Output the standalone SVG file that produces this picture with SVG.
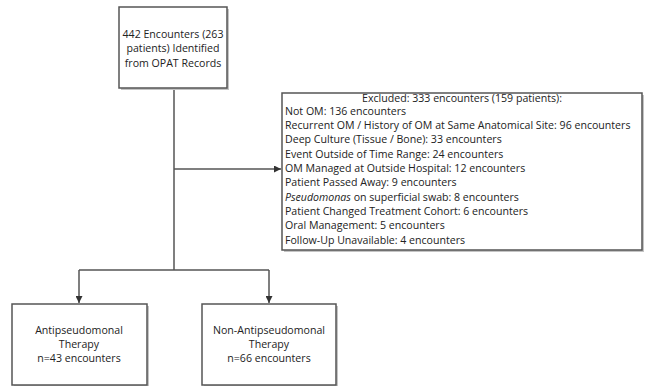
<svg xmlns="http://www.w3.org/2000/svg" width="647" height="386" viewBox="0 0 647 386">
<style>
.box{fill:#fff;stroke:#555;stroke-width:1.5}
.sh{fill:#c4c4c4}
.t{font-family:"Open Sans","Liberation Sans",sans-serif;font-size:10.6px;fill:#222}
.c{text-anchor:middle}
.ln{fill:none;stroke:#555;stroke-width:1.5}
</style>
<defs>
<marker id="ah" viewBox="0 0 10 10" refX="10" refY="5" markerWidth="7" markerHeight="7" markerUnits="userSpaceOnUse" orient="auto">
<path d="M0,0 L10,5 L0,10 z" fill="#333"/>
</marker>
</defs>
<rect width="647" height="386" fill="#fff"/>
<g id="connectors">
<path class="ln" d="M174,88 V270"/>
<path class="ln" d="M174,169 H281" marker-end="url(#ah)"/>
<path class="ln" d="M79,270 H269"/>
<path class="ln" d="M79,270 V303" marker-end="url(#ah)"/>
<path class="ln" d="M269,270 V303" marker-end="url(#ah)"/>
</g>
<g id="n_start">
<rect class="sh" x="121" y="9" width="108" height="81"/>
<rect class="box" x="119" y="7" width="108" height="81"/>
<text class="t c" x="173" y="38">442 Encounters (263</text>
<text class="t c" x="173" y="52">patients) Identified</text>
<text class="t c" x="173" y="67">from OPAT Records</text>
</g>
<g id="n_excluded">
<rect class="sh" x="284" y="95" width="360" height="157"/>
<rect class="box" x="282" y="93" width="360" height="157"/>
<text class="t c" x="462" y="102">Excluded: 333 encounters (159 patients):</text>
<text class="t" x="285" y="115">Not OM: 136 encounters</text>
<text class="t" x="285" y="129">Recurrent OM / History of OM at Same Anatomical Site: 96 encounters</text>
<text class="t" x="285" y="143">Deep Culture (Tissue / Bone): 33 encounters</text>
<text class="t" x="285" y="158">Event Outside of Time Range: 24 encounters</text>
<text class="t" x="285" y="172">OM Managed at Outside Hospital: 12 encounters</text>
<text class="t" x="285" y="186">Patient Passed Away: 9 encounters</text>
<text class="t" x="285" y="201"><tspan font-style="italic">Pseudomonas</tspan> on superficial swab: 8 encounters</text>
<text class="t" x="285" y="215">Patient Changed Treatment Cohort: 6 encounters</text>
<text class="t" x="285" y="229">Oral Management: 5 encounters</text>
<text class="t" x="285" y="244">Follow-Up Unavailable: 4 encounters</text>
</g>
<g id="n_anti">
<rect class="sh" x="14" y="306" width="135" height="82"/>
<rect class="box" x="12" y="304" width="135" height="81"/>
<text class="t c" x="79" y="334">Antipseudomonal</text>
<text class="t c" x="79" y="348">Therapy</text>
<text class="t c" x="79" y="362">n=43 encounters</text>
</g>
<g id="n_nonanti">
<rect class="sh" x="204" y="306" width="134" height="82"/>
<rect class="box" x="202" y="304" width="134" height="81"/>
<text class="t c" x="269" y="334">Non-Antipseudomonal</text>
<text class="t c" x="269" y="348">Therapy</text>
<text class="t c" x="269" y="362">n=66 encounters</text>
</g>
</svg>
